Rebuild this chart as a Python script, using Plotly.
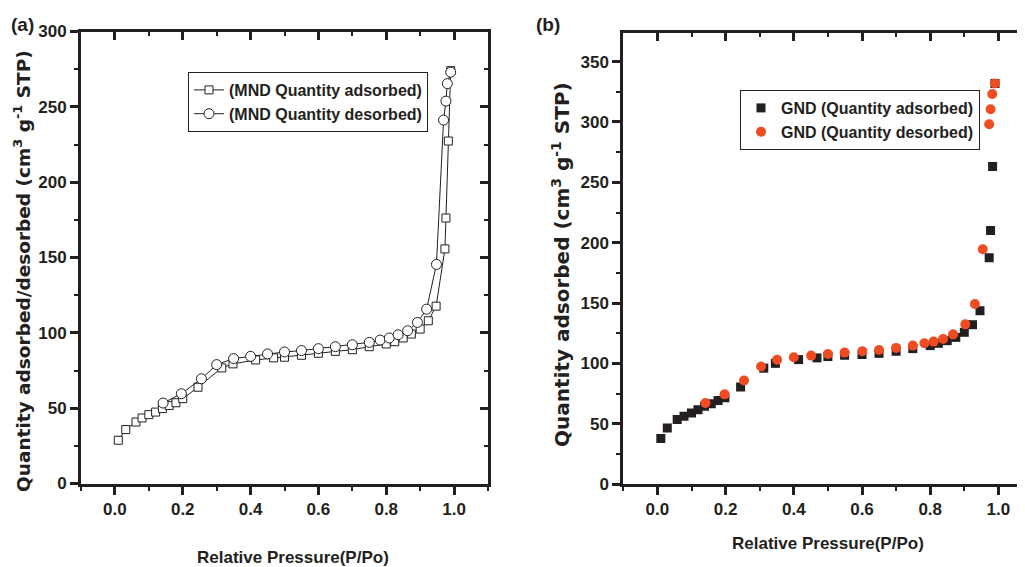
import plotly.graph_objects as go

# ---------------- data ----------------
# Panel (a): MND
mnd_ads_p = [0.010, 0.032, 0.062, 0.080, 0.100, 0.120, 0.140, 0.160, 0.180, 0.200,
             0.245, 0.315, 0.348, 0.415, 0.468, 0.500, 0.550, 0.600, 0.650, 0.700,
             0.750, 0.800, 0.825, 0.850, 0.874, 0.900, 0.924, 0.947, 0.973, 0.976,
             0.983, 0.990]
mnd_ads_q = [28.7, 35.8, 40.8, 43.5, 45.7, 47.4, 49.7, 51.8, 53.6, 56.3,
             63.9, 76.7, 79.4, 82.0, 83.4, 83.8, 85.1, 86.4, 87.7, 88.8,
             90.8, 92.6, 94.1, 96.6, 99.2, 102.5, 108.0, 117.7, 155.7, 176.2,
             227.3, 274.0]
mnd_des_p = [0.142, 0.196, 0.255, 0.300, 0.350, 0.400, 0.450, 0.500, 0.550, 0.600,
             0.650, 0.700, 0.750, 0.782, 0.809, 0.835, 0.863, 0.892, 0.919, 0.948,
             0.969, 0.976, 0.980, 0.990]
mnd_des_q = [53.4, 59.6, 69.5, 78.9, 82.9, 84.4, 86.0, 87.3, 88.2, 89.5,
             90.8, 92.1, 93.7, 95.2, 96.6, 98.7, 101.4, 106.9, 115.7, 145.4,
             241.2, 253.8, 265.4, 273.0]

# Panel (b): GND
gnd_ads_p = [0.010, 0.029, 0.058, 0.078, 0.100, 0.119, 0.138, 0.158, 0.178, 0.198,
             0.244, 0.312, 0.346, 0.414, 0.468, 0.500, 0.549, 0.600, 0.650, 0.700,
             0.749, 0.800, 0.824, 0.850, 0.875, 0.900, 0.924, 0.946, 0.973, 0.977,
             0.983, 0.990]
gnd_ads_q = [37.7, 46.5, 53.4, 56.1, 58.8, 61.6, 64.4, 66.6, 69.3, 71.5,
             80.3, 96.0, 100.0, 103.1, 104.5, 105.6, 106.7, 107.3, 108.3, 110.0,
             112.2, 114.7, 116.6, 118.8, 121.5, 125.7, 132.0, 143.6, 187.5, 210.1,
             263.2, 332.0]
gnd_des_p = [0.141, 0.197, 0.254, 0.304, 0.351, 0.400, 0.451, 0.500, 0.549, 0.601,
             0.650, 0.700, 0.749, 0.783, 0.810, 0.838, 0.867, 0.903, 0.931, 0.954,
             0.973, 0.977, 0.982, 0.990]
gnd_des_q = [67.1, 74.3, 85.8, 97.4, 102.9, 105.0, 106.4, 107.8, 108.9, 110.0,
             111.1, 112.8, 114.7, 116.6, 118.0, 120.2, 124.0, 132.3, 149.1, 194.5,
             298.1, 310.5, 323.2, 332.0]

x_ticks = [0.0, 0.2, 0.4, 0.6, 0.8, 1.0]
x_tick_text = ["0.0", "0.2", "0.4", "0.6", "0.8", "1.0"]

# ---------------- styling ----------------
W, H = 1025, 567
OFF = 8  # the page body has an 8px margin; compensate so the figure lands where the reference is
INK = "#231F20"
RED = "#EE4C22"
SANS = "Liberation Sans"
WIDE = "DejaVu Sans"

def px_x(p):
    return (p - OFF) / W

def px_y(p):
    return 1 - (p - OFF) / H

tickfont = dict(family=SANS, size=17, color=INK, weight="bold")

def xax(domain, rng, anchor):
    return dict(domain=domain, range=rng, anchor=anchor, tickvals=x_ticks, ticktext=x_tick_text,
                ticks="outside", ticklen=8, tickwidth=3, tickcolor=INK,
                showline=True, linewidth=3, linecolor=INK, showgrid=False, zeroline=False,
                tickfont=tickfont, automargin=False,
                minor=dict(dtick=0.1, tick0=0, ticks="outside", ticklen=4, tickwidth=2, tickcolor=INK))

def yax(domain, rng, anchor):
    return dict(domain=domain, range=rng, anchor=anchor, dtick=50, tick0=0,
                ticks="outside", ticklen=8, tickwidth=3, tickcolor=INK,
                showline=True, linewidth=3, linecolor=INK, showgrid=False, zeroline=False,
                tickfont=tickfont, automargin=False,
                minor=dict(dtick=25, tick0=0, ticks="outside", ticklen=4, tickwidth=2, tickcolor=INK))

def mirror_x(over, rng, anchor):
    return dict(overlaying=over, side="top", range=rng, anchor=anchor, tickvals=x_ticks,
                ticks="inside", ticklen=8, tickwidth=3, tickcolor=INK, showticklabels=False,
                showline=True, linewidth=3, linecolor=INK, showgrid=False, zeroline=False,
                automargin=False,
                minor=dict(dtick=0.1, tick0=0, ticks="inside", ticklen=4, tickwidth=2, tickcolor=INK))

def mirror_y(over, rng, anchor):
    return dict(overlaying=over, side="right", range=rng, anchor=anchor, dtick=50, tick0=0,
                ticks="inside", ticklen=8, tickwidth=3, tickcolor=INK, showticklabels=False,
                showline=True, linewidth=3, linecolor=INK, showgrid=False, zeroline=False,
                automargin=False,
                minor=dict(dtick=25, tick0=0, ticks="inside", ticklen=4, tickwidth=2, tickcolor=INK))

xl_dom = [px_x(81), px_x(488)]
yl_dom = [px_y(483.5), px_y(31.5)]
xr_dom = [px_x(623.3), px_x(1025)]
yr_dom = [px_y(484), px_y(32.7)]
xl_rng = [-0.1, 1.1]
yl_rng = [0, 300]
xr_rng = [-0.1, 1.078]
yr_rng = [0, 374]

fig = go.Figure()

fig.add_trace(go.Scatter(x=mnd_ads_p, y=mnd_ads_q, mode="lines+markers", name="(MND Quantity adsorbed)",
                         line=dict(color=INK, width=1),
                         marker=dict(symbol="square", size=8, color="white", line=dict(color=INK, width=1)),
                         xaxis="x", yaxis="y", legend="legend"))
fig.add_trace(go.Scatter(x=mnd_des_p, y=mnd_des_q, mode="lines+markers", name="(MND Quantity desorbed)",
                         line=dict(color=INK, width=1),
                         marker=dict(symbol="circle", size=10, color="white", line=dict(color=INK, width=1)),
                         xaxis="x", yaxis="y", legend="legend"))
fig.add_trace(go.Scatter(x=gnd_ads_p, y=gnd_ads_q, mode="markers", name="GND (Quantity adsorbed)",
                         marker=dict(symbol="square", size=9, color=INK),
                         xaxis="x2", yaxis="y2", legend="legend2"))
fig.add_trace(go.Scatter(x=gnd_des_p, y=gnd_des_q, mode="markers", name="GND (Quantity desorbed)",
                         marker=dict(symbol="circle", size=10, color=RED),
                         xaxis="x2", yaxis="y2", legend="legend2"))
# carriers so the mirrored frame axes get drawn
for xa, ya in [("x3", "y"), ("x", "y3"), ("x4", "y2")]:
    fig.add_trace(go.Scatter(x=[None], y=[None], xaxis=xa, yaxis=ya, showlegend=False, hoverinfo="skip"))

legfont = dict(family=SANS, size=16, color=INK, weight="bold")
fig.update_layout(
    width=W, height=H, margin=dict(l=0, r=0, t=0, b=0, autoexpand=False),
    paper_bgcolor="white", plot_bgcolor="white",
    xaxis=xax(xl_dom, xl_rng, "y"),
    yaxis=yax(yl_dom, yl_rng, "x"),
    xaxis2=xax(xr_dom, xr_rng, "y2"),
    yaxis2=yax(yr_dom, yr_rng, "x2"),
    xaxis3=mirror_x("x", xl_rng, "y"),
    yaxis3=mirror_y("y", yl_rng, "x"),
    xaxis4=mirror_x("x2", xr_rng, "y2"),
    legend=dict(x=px_x(188), y=px_y(72), xanchor="left", yanchor="top", bgcolor="white",
                bordercolor=INK, borderwidth=1, font=legfont, tracegroupgap=0),
    legend2=dict(x=px_x(740), y=px_y(90), xanchor="left", yanchor="top", bgcolor="white",
                 bordercolor=INK, borderwidth=1, font=legfont, tracegroupgap=0),
    showlegend=True,
)

fig.add_annotation(text="Quantity adsorbed/desorbed (cm<sup>3</sup> g<sup>-1</sup> STP)",
                   x=px_x(22), y=px_y(271), xref="paper", yref="paper", textangle=-90,
                   showarrow=False, font=dict(family=WIDE, size=18.5, color=INK, weight="bold"),
                   xanchor="center", yanchor="middle")
fig.add_annotation(text="Quantity adsorbed (cm<sup>3</sup> g<sup>-1</sup> STP)",
                   x=px_x(561), y=px_y(265), xref="paper", yref="paper", textangle=-90,
                   showarrow=False, font=dict(family=WIDE, size=20, color=INK, weight="bold"),
                   xanchor="center", yanchor="middle")
fig.add_annotation(text="Relative Pressure(P/Po)", x=px_x(293), y=px_y(557), xref="paper", yref="paper",
                   showarrow=False, font=dict(family=SANS, size=17, color=INK, weight="bold"),
                   xanchor="center", yanchor="middle")
fig.add_annotation(text="Relative Pressure(P/Po)", x=px_x(828), y=px_y(543), xref="paper", yref="paper",
                   showarrow=False, font=dict(family=SANS, size=17, color=INK, weight="bold"),
                   xanchor="center", yanchor="middle")
fig.add_annotation(text="(a)", x=px_x(22), y=px_y(25), xref="paper", yref="paper",
                   showarrow=False, font=dict(family=SANS, size=19, color=INK, weight="bold"),
                   xanchor="center", yanchor="middle")
fig.add_annotation(text="(b)", x=px_x(548), y=px_y(24), xref="paper", yref="paper",
                   showarrow=False, font=dict(family=SANS, size=19, color=INK, weight="bold"),
                   xanchor="center", yanchor="middle")

fig.write_html("out.html")
